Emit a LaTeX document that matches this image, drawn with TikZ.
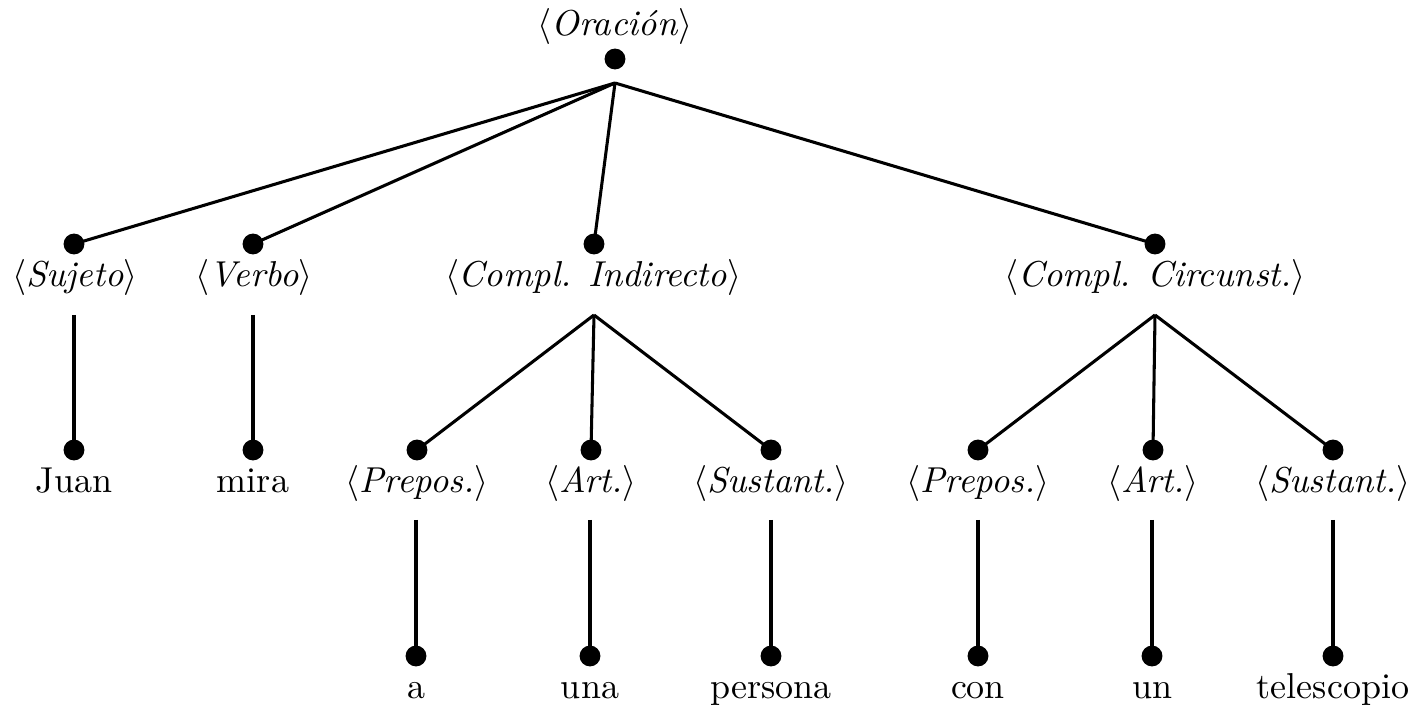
\documentclass[tikz,border=0pt]{standalone}
\begin{document}
\begin{tikzpicture}[x=0.2778pt,y=-0.2778pt,
  dot/.style={circle,fill=black,inner sep=0pt,minimum size=5.8pt},
  lbl/.style={anchor=base,inner sep=0pt},
  edge/.style={line width=0.85pt}]
\useasboundingbox (0,0) rectangle (1418,716);
% root
\node[lbl] (or) at (615,36) {$\langle$\textit{Oración}$\rangle$};
\node[dot] (ord) at (615,59) {};
\coordinate (oro) at (615,83);
% level 1
\node[dot] (sud) at (74,244) {};
\node[lbl] (su) at (75,287) {$\langle$\textit{Sujeto}$\rangle$};
\coordinate (suo) at (74,315);
\node[dot] (ved) at (253,244) {};
\node[lbl] (ve) at (254,287) {$\langle$\textit{Verbo}$\rangle$};
\coordinate (veo) at (253,315);
\node[dot] (cid) at (594,244) {};
\node[lbl] (ci) at (593,287) {$\langle$\textit{Compl. Indirecto}$\rangle$};
\coordinate (cio) at (594,315);
\node[dot] (ccd) at (1155,244) {};
\node[lbl] (cc) at (1155,287) {$\langle$\textit{Compl. Circunst.}$\rangle$};
\coordinate (cco) at (1155,315);
% level 2
\node[dot] (jud) at (74,450) {};
\node[lbl] (ju) at (74,493) {Juan};
\node[dot] (mid) at (253,450) {};
\node[lbl] (mi) at (253,493) {mira};
\node[dot] (p1d) at (417,450) {};
\node[lbl] (p1) at (417,493) {$\langle$\textit{Prepos.}$\rangle$};
\coordinate (p1o) at (416,520);
\node[dot] (a1d) at (591,450) {};
\node[lbl] (a1) at (591,493) {$\langle$\textit{Art.}$\rangle$};
\coordinate (a1o) at (590,520);
\node[dot] (s1d) at (771,450) {};
\node[lbl] (s1) at (771,493) {$\langle$\textit{Sustant.}$\rangle$};
\coordinate (s1o) at (771,520);
\node[dot] (p2d) at (978,450) {};
\node[lbl] (p2) at (978,493) {$\langle$\textit{Prepos.}$\rangle$};
\coordinate (p2o) at (978,520);
\node[dot] (a2d) at (1153,450) {};
\node[lbl] (a2) at (1153,493) {$\langle$\textit{Art.}$\rangle$};
\coordinate (a2o) at (1152,520);
\node[dot] (s2d) at (1333,450) {};
\node[lbl] (s2) at (1333,493) {$\langle$\textit{Sustant.}$\rangle$};
\coordinate (s2o) at (1333,520);
% level 3
\node[dot] (ad) at (416,656) {};
\node[lbl] (a) at (416,699) {a};
\node[dot] (unad) at (590,656) {};
\node[lbl] (una) at (590,699) {una};
\node[dot] (ped) at (771,656) {};
\node[lbl] (pe) at (771,699) {persona};
\node[dot] (cod) at (978,656) {};
\node[lbl] (co) at (978,699) {con};
\node[dot] (und) at (1152,656) {};
\node[lbl] (un) at (1152,699) {un};
\node[dot] (ted) at (1333,656) {};
\node[lbl] (te) at (1333,699) {telescopio};
% edges
\draw[edge] (oro) -- (sud.center);
\draw[edge] (oro) -- (ved.center);
\draw[edge] (oro) -- (cid.center);
\draw[edge] (oro) -- (ccd.center);
\draw[edge] (suo) -- (jud.center);
\draw[edge] (veo) -- (mid.center);
\draw[edge] (cio) -- (p1d.center);
\draw[edge] (cio) -- (a1d.center);
\draw[edge] (cio) -- (s1d.center);
\draw[edge] (cco) -- (p2d.center);
\draw[edge] (cco) -- (a2d.center);
\draw[edge] (cco) -- (s2d.center);
\draw[edge] (p1o) -- (ad.center);
\draw[edge] (a1o) -- (unad.center);
\draw[edge] (s1o) -- (ped.center);
\draw[edge] (p2o) -- (cod.center);
\draw[edge] (a2o) -- (und.center);
\draw[edge] (s2o) -- (ted.center);
\end{tikzpicture}
\end{document}
